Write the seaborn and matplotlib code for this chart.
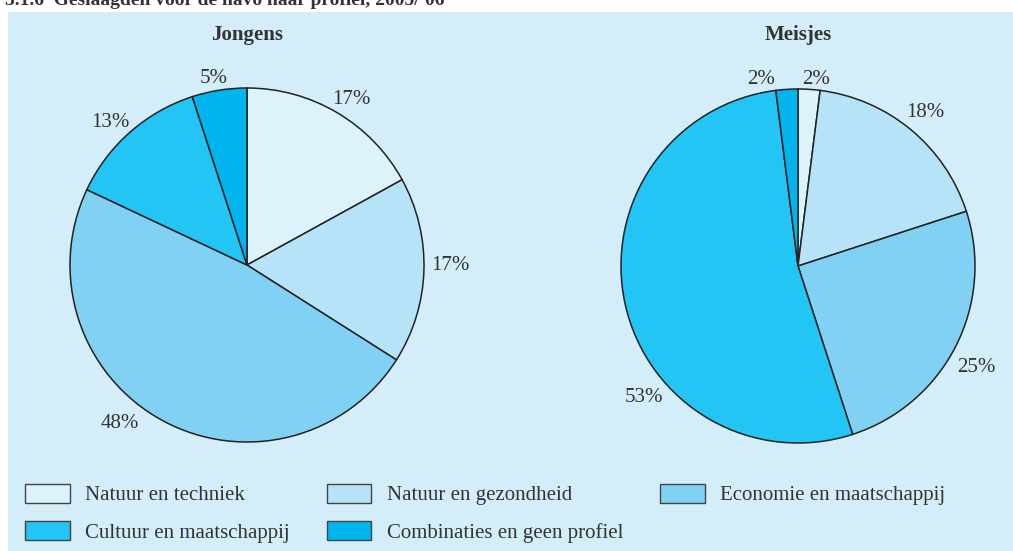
import matplotlib
matplotlib.use("Agg")
import matplotlib.pyplot as plt
import seaborn as sns
from matplotlib.patches import Rectangle, Patch

# data
profielen = ["Natuur en techniek", "Natuur en gezondheid", "Economie en maatschappij",
             "Cultuur en maatschappij", "Combinaties en geen profiel"]
jongens = [17, 17, 48, 13, 5]
meisjes = [2, 18, 25, 53, 2]
titel = "3.1.6  Geslaagden voor de havo naar profiel, 2005/'06"

# label placement (in pie radius units), as in the original layout
pos_jongens = [(0.59, 0.95), (1.15, 0.01), (-0.72, -0.88), (-0.77, 0.82), (-0.19, 1.07)]
pos_meisjes = [(0.10, 1.07), (0.72, 0.88), (1.01, -0.56), (-0.87, -0.73), (-0.21, 1.07)]

sns.set_style("white")
plt.rcParams['font.family'] = ['Liberation Serif', 'DejaVu Serif']
kleuren = sns.color_palette(["#ddf3fb", "#b6e3f7", "#80d1f4", "#22c5f3", "#00b4ee"])
tekst = "#333333"

W, H = 1013, 551
fig = plt.figure(figsize=(W / 100, H / 100), dpi=100)
fig.patch.set_facecolor("white")
fig.patches.append(Rectangle((8 / W, 0), 1 - 8 / W, 1 - 12 / H, transform=fig.transFigure,
                             facecolor="#d3eef9", edgecolor="none", zorder=-5))
fig.text(5 / W, 1 - 5 / H, titel, fontsize=14, fontweight="bold", color=tekst, va="baseline")


def taart(cx, cy, waarden, posities, naam):
    r = 177
    half = 1.3 * r
    ax = fig.add_axes([(cx - half) / W, (H - cy - half) / H, 2 * half / W, 2 * half / H])
    _, labels = ax.pie(waarden, colors=kleuren, startangle=90, counterclock=False,
                       labels=[f"{v}%" for v in waarden], labeldistance=1.13,
                       wedgeprops=dict(edgecolor="#222222", linewidth=1.1),
                       textprops=dict(fontsize=15, color=tekst))
    for t, (x, y) in zip(labels, posities):
        t.set_position((x, y - 0.015))
        t.set_horizontalalignment("center")
        t.set_verticalalignment("center")
    ax.set_xlim(-1.3, 1.3)
    ax.set_ylim(-1.3, 1.3)
    ax.set_aspect("equal")
    ax.axis("off")
    fig.text(cx / W, 1 - 35 / H, naam, fontsize=15, fontweight="bold", color=tekst,
             ha="center", va="center")


taart(247, 265, jongens, pos_jongens, "Jongens")
taart(798, 266, meisjes, pos_meisjes, "Meisjes")

volgorde = [0, 3, 1, 4, 2]
handles = [Patch(facecolor=kleuren[i], edgecolor="#444444", linewidth=1) for i in volgorde]
fig.legend(handles, [profielen[i] for i in volgorde], ncol=3, loc="upper left",
           bbox_to_anchor=(25 / W, 1 - 484 / H), frameon=False, borderpad=0, borderaxespad=0,
           fontsize=15, handlelength=2.15, handleheight=1.0, handletextpad=0.75,
           columnspacing=1.75, labelspacing=0.75, labelcolor=tekst)

fig.savefig("out.png", dpi=100)
